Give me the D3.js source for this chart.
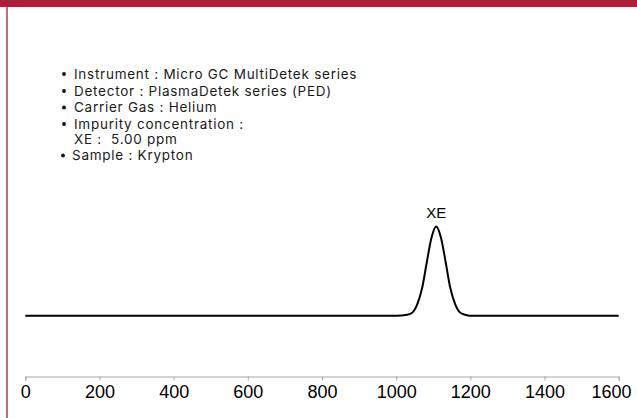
<!DOCTYPE html>
<html><head><meta charset="utf-8">
<script src="https://cdn.jsdelivr.net/npm/d3@7"></script>
<style>html,body{margin:0;padding:0;background:#fff;}svg{display:block;}</style>
</head><body>
<svg id="chart" width="637" height="418"></svg>
<script>
// Data
const retentionTime = [0, 1000, 1030, 1045, 1058, 1070, 1083, 1095, 1108, 1121, 1133, 1146, 1158, 1171, 1186, 1200, 1600];
const signal        = [0, 0,    1,    4,    14,   31,   61,   87,   100,  87,   61,   31,   14,   4,    1,    0,    0];
const xTicks = [0, 200, 400, 600, 800, 1000, 1200, 1400, 1600];
const peakLabels = [{name: "XE", time: 1108, value: 100}];
const infoLines = [
  {bullet: true,  text: "Instrument : Micro GC MultiDetek series"},
  {bullet: true,  text: "Detector : PlasmaDetek series (PED)"},
  {bullet: true,  text: "Carrier Gas : Helium"},
  {bullet: true,  text: "Impurity concentration :"},
  {bullet: false, text: "XE :  5.00 ppm"},
  {bullet: true,  text: "Sample : Krypton"}
];

const svg = d3.select("#chart");
const W = 637, H = 418;

// frame decorations
svg.append("rect").attr("x",0).attr("y",0).attr("width",W).attr("height",7).attr("fill","#AD1E3B");
svg.append("rect").attr("x",6).attr("y",7).attr("width",2).attr("height",H-7).attr("fill","#C9677C");

const x = d3.scaleLinear().domain([0,1600]).range([25.3, 618.7]);
const y = d3.scaleLinear().domain([0,100]).range([315.7, 226.5]);

// axis
const axisG = svg.append("g").attr("transform","translate(0,376.5)")
  .call(d3.axisBottom(x).tickValues(xTicks).tickSize(4).tickSizeOuter(4).tickPadding(5).tickFormat(d3.format("d")));
axisG.select(".domain").attr("stroke","#A6A6A6");
axisG.selectAll(".tick line").attr("stroke","#A6A6A6");
axisG.selectAll(".tick text").attr("fill","#000").style("font-family","'Liberation Sans', Arial, sans-serif").style("font-size","18px");
// keep last label inside the plot
axisG.selectAll(".tick text").each(function(d){
  const bb = this.getBBox();
  const tx = x(d);
  const right = tx + bb.x + bb.width;
  if (right > 631) d3.select(this).attr("x", 631 - right);
});

// trace
const line = d3.line().x((d,i)=>x(retentionTime[i])).y(d=>y(d)).curve(d3.curveMonotoneX);
svg.append("path").datum(signal).attr("d", line).attr("fill","none").attr("stroke","#000").attr("stroke-width",2);

// peak label
svg.selectAll(".peak").data(peakLabels).enter().append("text")
  .attr("x", d=>x(d.time)).attr("y", d=>y(d.value)-8.5)
  .attr("text-anchor","middle").style("font-family","'Liberation Sans', Arial, sans-serif").style("font-size","15px")
  .text(d=>d.name);

// info list
const info = svg.append("g").style("font-family","Inter, 'Liberation Sans', sans-serif").style("font-size","13.5px")
  .style("white-space","pre").attr("fill","#1a1a1a");
const baselines = [78.5, 95.5, 112, 128.5, 143.5, 160];
infoLines.forEach((l,i)=>{
  if (l.bullet) info.append("circle").attr("cx", i===5?63:64).attr("cy", baselines[i]-4.5).attr("r",1.9).attr("fill","#111");
  info.append("text").attr("xml:space","preserve").attr("x", l.bullet ? (i===5?72:74) : 74).attr("y", baselines[i]).text(l.text);
});
// widen letter spacing so the first line spans the same width as in the reference
const first = info.select("text").node();
const w0 = first.getComputedTextLength();
const n0 = infoLines[0].text.length;
info.style("letter-spacing", Math.max(0, (283 - w0) / n0).toFixed(2) + "px");
</script>
</body></html>
